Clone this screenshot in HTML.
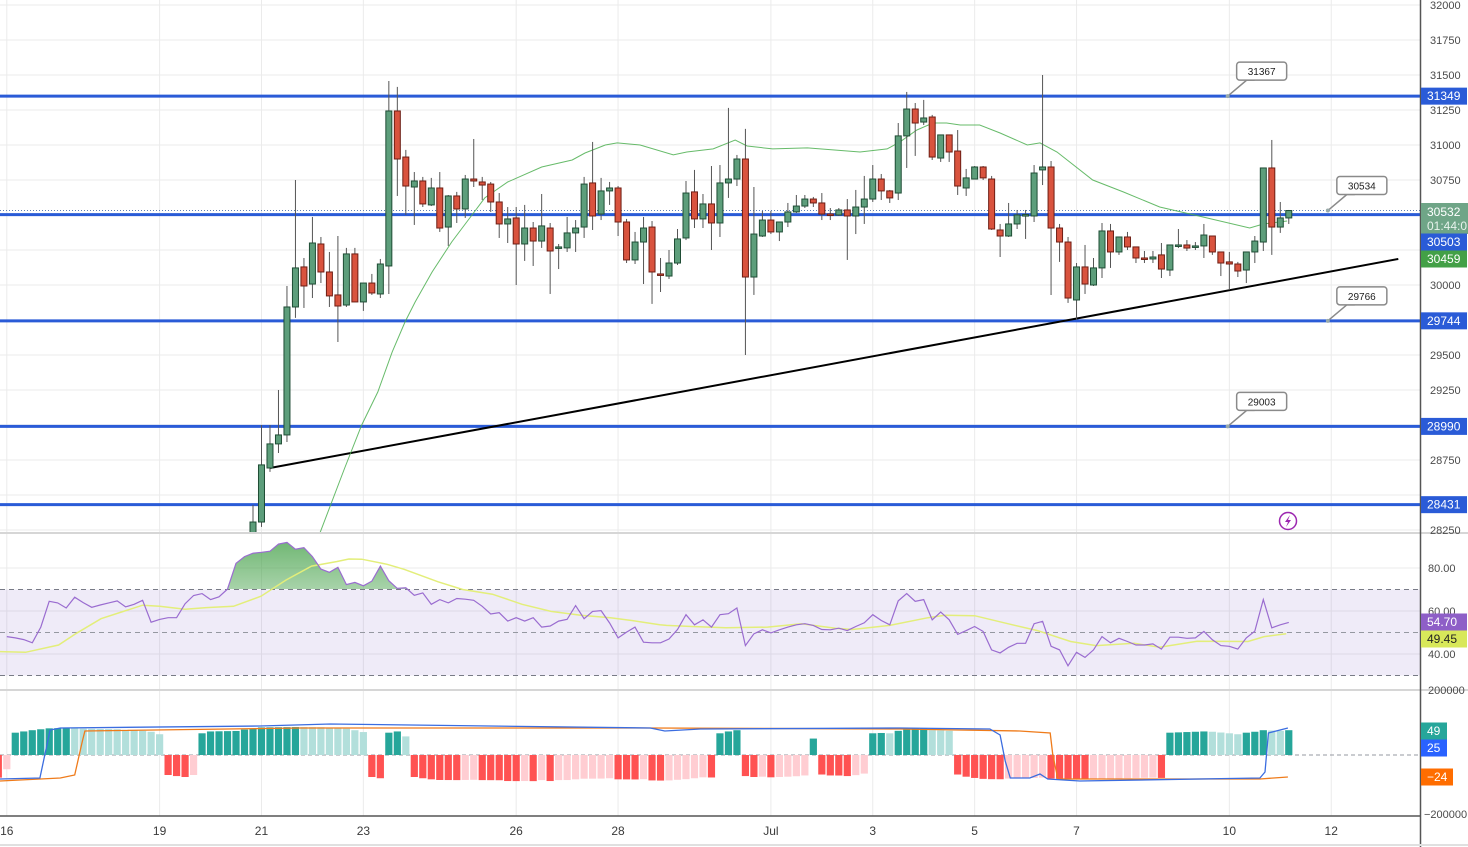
<!DOCTYPE html>
<html><head><meta charset="utf-8"><style>
html,body{margin:0;padding:0;background:#fff;}
svg{display:block;font-family:"Liberation Sans",sans-serif;}
</style></head><body>
<svg id="chart" width="1468" height="847" viewBox="0 0 1468 847" xmlns="http://www.w3.org/2000/svg">
<defs>
<linearGradient id="rsiGrad" x1="0" y1="0" x2="0" y2="1">
<stop offset="0" stop-color="#43a047" stop-opacity="0.75"/>
<stop offset="1" stop-color="#43a047" stop-opacity="0"/>
</linearGradient>
<clipPath id="mainClip"><rect x="0" y="0" width="1420" height="532"/></clipPath>
<clipPath id="rsiClip"><rect x="0" y="534" width="1420" height="155"/></clipPath>
<clipPath id="rsiUp"><rect x="0" y="534" width="1420" height="55"/></clipPath>
</defs>
<g id="grid"></g>
<g id="main" clip-path="url(#mainClip)"></g>
<g id="rsi"></g>
<g id="osc"></g>
<g id="axes"></g>
</svg>
<script>
const opens=[28215,28307,28693,28865,28929,29843,30129,30007,30293,30093,29929,29857,30222,29879,30014,29936,30136,31243,30914,30700,30743,30572,30693,30414,30636,30543,30757,30736,30721,30593,30436,30479,30293,30407,30314,30407,30265,30265,30372,30414,30729,30507,30672,30693,30450,30179,30307,30414,30079,30064,30157,30336,30665,30472,30579,30443,30729,30757,30900,30057,30350,30464,30379,30450,30522,30564,30614,30586,30507,30500,30536,30493,30557,30614,30757,30672,30657,31065,31257,31164,31200,30907,31072,30957,30693,30757,30843,30757,30393,30350,30436,30500,30493,30822,30843,30407,30307,29893,30129,30000,30122,30386,30236,30343,30272,30193,30186,30215,30107,30279,30286,30272,30279,30350,30236,30165,30150,30107,30236,30307,30836,30414,30479];
const highs=[28429,29000,29000,29250,29993,30750,30193,30486,30343,30236,30350,30265,30265,30014,30079,30186,31457,31415,30965,30807,30772,30765,30807,30643,30665,30786,31043,30772,30736,30657,30557,30557,30572,30450,30650,30443,30293,30486,30464,30772,31022,30765,30736,30707,30472,30379,30486,30457,30193,30250,30400,30743,30822,30650,30850,30857,31265,30929,31115,30700,30529,30529,30450,30586,30643,30643,30629,30657,30550,30550,30614,30679,30779,30857,30793,30679,31157,31379,31300,31322,31215,31072,31072,31107,30829,30850,30850,30779,30436,30586,30536,30536,30857,31500,30886,30436,30343,30157,30286,30193,30443,30436,30343,30379,30272,30243,30243,30300,30286,30400,30321,30307,30436,30350,30236,30236,30165,30236,30350,30836,31036,30593,30536];
const lows=[28150,28272,28665,28800,28879,29765,29836,29907,30014,29843,29593,29843,29879,29815,29929,29907,29936,30636,30500,30429,30557,30564,30379,30279,30443,30479,30700,30607,30522,30336,30300,30000,30172,30136,30265,29936,30114,30236,30236,30336,30393,30464,30572,30350,30157,30150,30007,29865,29950,30043,30143,30321,30407,30407,30250,30343,30622,30707,29500,29929,30343,30364,30314,30414,30514,30550,30557,30464,30464,30493,30179,30364,30436,30593,30607,30586,30607,30836,30922,31143,30893,30879,30879,30643,30636,30757,30750,30393,30200,30343,30400,30329,30450,30714,29929,30165,29872,29750,29936,29993,30050,30122,30215,30250,30157,30157,30157,30050,30064,30264,30243,30250,30193,30215,30064,29965,30057,30014,30157,30243,30215,30372,30436];
const closes=[28307,28715,28865,28929,29843,30122,29993,30300,30093,29922,29850,30222,29879,30014,29943,30150,31243,30900,30707,30743,30579,30693,30407,30636,30543,30757,30743,30714,30593,30436,30472,30293,30407,30314,30422,30243,30272,30372,30407,30721,30493,30672,30693,30450,30179,30307,30407,30093,30071,30157,30329,30657,30472,30579,30443,30729,30757,30900,30057,30364,30464,30379,30450,30522,30564,30614,30586,30507,30500,30536,30493,30557,30614,30757,30672,30622,31065,31257,31157,31193,30914,31072,30950,30707,30765,30843,30765,30400,30350,30436,30500,30503,30800,30843,30407,30307,29907,30129,30007,30122,30386,30236,30343,30272,30193,30186,30200,30114,30286,30286,30264,30279,30357,30236,30157,30150,30100,30236,30314,30836,30414,30479,30532];
const maIdx=[7.8,10.8,12.8,14.7,16.4,17.9,19.1,21.1,23.4,25.8,27.3,30.0,34.0,37.6,39.1,41.5,42.9,45.6,49.5,51.1,54.2,56.8,58.2,61.2,65.3,71.5,74.7,76.2,78.2,80.1,81.7,83.3,85.6,88.0,91.2,92.7,94.7,98.9,102.5,106.8,111.9,117.4,119,121.8];
const maVal=[28215,28693,29000,29236,29522,29736,29879,30093,30307,30500,30622,30736,30843,30893,30943,31000,31015,31000,30929,30950,30972,31036,30993,30972,30979,30950,30972,31022,31107,31157,31157,31143,31143,31086,31000,31015,30950,30750,30665,30557,30486,30407,30436,30457];
const levels=[31349,30503,29744,28990,28431];
const levelLabels=["31349","30503","29744","28990","28431"];
const calloutPrices=[31367,30534,29766,29003];
const calloutIdx=[114.8,126.6,126.6,114.8];
const calloutLine=[31349,30532,29744,28990];
const trendIdx=[2.0,134.9];
const trendVal=[28693,30186];
const priceTicks=[32000,31750,31500,31250,31000,30750,30500,30250,30000,29750,29500,29250,29000,28750,28500,28250];
const dayIdx=[-29,-11,1,13,31,43,61,73,85,97,115,127];
const dayLabels=["16","19","21","23","26","28","Jul","3","5","7","10","12"];
const rsiStart=-29;
const rsiVals=[48.1,47.5,46.7,45.2,52.5,64.5,63.75,61.4,66.4,63.9,61.7,62.8,63.75,64.7,61.9,63.1,65,54.8,56.1,56.9,56.9,63.4,67.2,68.1,65.3,66.6,70.2,82.2,85.3,86.9,87.3,87.8,91.1,91.9,88.75,89.5,85.3,79.5,78,80.3,72.3,73.3,71.7,73.9,80.9,74.1,70.5,70.8,67.3,68.4,63.1,65.3,63.75,65.8,65.5,65,62.2,58.6,59.2,55.3,56.9,55.3,56.9,52.5,53,55.3,56.1,62.5,56.4,59.8,60.2,54.4,47.5,50.2,52.5,45.5,45.2,45.2,47,51.4,58.3,53.6,55.9,52.5,58.3,58.75,61.4,43.9,49.4,51.25,49.8,51.25,52.5,53.6,54.1,53.3,51.4,51.25,52,50.9,52.8,54.5,58.3,55.6,53.6,64.7,68.1,64.5,65.3,55.9,59.5,55.9,49.1,50.9,52.8,50.5,41.9,40.5,43.1,45,45,54.1,55.2,43.6,41.9,34.5,40.8,38.4,41.9,48.1,45.2,47.3,45.8,44.2,44.2,44.7,42.3,47.8,47.8,47.3,47.5,50.5,46.6,43.9,43.6,42.3,47.5,50.6,65.3,52.2,53.6,54.7];
const rsiMaIdx=[-29.8,-26.8,-22.9,-20.9,-17.9,-14.9,-13,-11,-8,-5.5,-2.3,0.94,3.9,6.9,9.9,11.3,12.8,15.8,17.8,21.8,24.7,28.2,31.7,35.1,38.6,42.1,44.6,47.9,48.7,51.7,55.7,60.6,64.6,68.6,70.6,75,79.5,81.5,85,88.9,92.4,96.3,99.3,103.8,106.8,111.2,117.2,119.1,121.7];
const rsiMaVal=[41.1,40.8,44.2,49.4,56.4,60.3,62.7,62.2,60.8,61.6,62.2,66.9,74.4,80.9,83,84.2,84.1,81.7,79.4,73.6,70,67.8,63.1,59.8,58,56.9,55.6,53.6,53.3,52.8,52.2,52.5,54.1,52,51.4,53.3,56.9,58,57.8,54.1,50.9,45.8,43.9,45,43.1,45.9,45.8,48.1,49.45];
const histStart=-30;
const histVals=[-73,-46,72,76,80,83,86,86.5,87,86,85,84.5,84,83.5,83,81,79,78,75,67,-64.5,-68,-71,-64.5,70,76,76.5,77,77.5,82,85,89,89.3,89.6,89.9,90.2,90,89.8,89.6,88,86,85,80,74,-71,-75,72,76,60,-71,-75,-78.5,-80.6,-80.8,-81,-80.5,-80,-81,-81.2,-81.4,-84,-84.2,-84,-84.3,-81,-84,-81,-80.8,-78.5,-76.5,-76.3,-76.1,-75,-78.5,-78.7,-78.9,-78,-82,-82.5,-82,-80,-78,-75,-72,-72.5,70,76,80,-68,-71,-70,-72,-71,-70,-68.5,-66,53,-63,-66,-66.2,-68,-65,-60,70,71,70,78,82,85,86,80,79,78,-63,-70,-74,-77,-78,-78.2,-76,-76,-75.5,-74,-73,-76,-77,-78,-78.5,-79,-78,-77,-76.5,-76,-75,-74,-73.5,-73,-74,72,73,74,75,76,75,72.5,70,67,72,75,80,79,78,80];
const blueIdx=[-29.8,-25.1,-23.9,-22.7,0.8,9.1,46.8,48.5,52.7,76.2,86.8,88,88.6,89.2,91.5,92.7,93.6,97.4,118.6,119.2,119.6,121.9];
const blueVal=[-77.4,-74.2,80.6,87.1,93.5,100,87.1,77.4,83.9,87.1,83.9,64.5,-19.4,-74.2,-74.2,-61.3,-77.4,-83.9,-74.2,-54.8,71,87.1];
const orangeIdx=[-29.8,-22.7,-21,-20.1,-19.8,5.5,46.8,76.2,90.3,93.9,94.2,94.8,99.8,118.6,121.9];
const orangeVal=[-83.9,-74.2,-64.5,45.2,77.4,87.1,87.1,83.9,77.4,71,0,-77.4,-77.4,-77.4,-71];

const NS="http://www.w3.org/2000/svg";
const xK=k=>253+8.49*k;
const yP=p=>40+(31750-p)*0.14;
const yR=v=>568+(80-v)*2.15;
const yH=v=>755-v/3.226;
function mk(tag,attrs,parent){const e=document.createElementNS(NS,tag);for(const k in attrs)e.setAttribute(k,attrs[k]);parent.appendChild(e);return e;}
const G=document.getElementById('grid'),M=document.getElementById('main'),R=document.getElementById('rsi'),O=document.getElementById('osc'),A=document.getElementById('axes');

// grid
priceTicks.forEach(p=>{const l=mk('line',{x1:0,x2:1420,y1:yP(p),y2:yP(p),stroke:'#ebebeb','stroke-width':1},G);

});
dayIdx.forEach(k=>{const l=mk('line',{x1:xK(k),x2:xK(k),y1:0,y2:816,stroke:'#ebebeb','stroke-width':1},G);

});
[80,60,40].forEach(v=>{const l=mk('line',{x1:0,x2:1420,y1:yR(v),y2:yR(v),stroke:'#ebebeb'},G);

});

// levels
levels.forEach((p,i)=>{const l=mk('line',{x1:0,x2:1420,y1:yP(p),y2:yP(p),stroke:'#2a5bd7','stroke-width':3},M);

});
// current price dotted
{const l=mk('line',{x1:0,x2:1420,y1:yP(closes[closes.length-1]),y2:yP(closes[closes.length-1]),stroke:'#5d7fb5','stroke-width':1,'stroke-dasharray':'1 2'},M);

}
// trendline
{const l=mk('line',{x1:xK(trendIdx[0]),y1:yP(trendVal[0]),x2:xK(trendIdx[1]),y2:yP(trendVal[1]),stroke:'#000','stroke-width':2},M);

}
// MA
{let d='';maIdx.forEach((k,i)=>{d+=(i?'L':'M')+xK(k).toFixed(1)+','+yP(maVal[i]).toFixed(1);});
const l=mk('path',{d:d,fill:'none',stroke:'#4caf50','stroke-width':1,'stroke-opacity':0.85},M);

}
// candles
opens.forEach((o,i)=>{const c=closes[i],up=c>=o,x=xK(i);
const g=mk('g',{},M);


mk('line',{x1:x,x2:x,y1:yP(highs[i]),y2:yP(lows[i]),stroke:'#555','stroke-width':1},g);
const t=Math.min(yP(o),yP(c)),h=Math.max(1.5,Math.abs(yP(o)-yP(c)));
mk('rect',{x:x-3,y:t,width:6,height:h,fill:up?'#5d9e7b':'#d9533e',stroke:up?'#1f4d35':'#6e1e14','stroke-width':1},g);});
// callouts
calloutPrices.forEach((p,i)=>{const ax=xK(calloutIdx[i]),ay=yP(calloutLine[i]);
const g=mk('g',{},M);


const bx=ax+9,by=ay-34;
mk('path',{d:`M${ax},${ay} L${bx+10},${by+18} L${bx+18},${by+18}`,fill:'#fff',stroke:'#8a8a8a','stroke-width':1.5},g);
mk('rect',{x:bx,y:by,width:50,height:18,rx:3,fill:'#fff',stroke:'#8a8a8a','stroke-width':1.5},g);
mk('circle',{cx:ax,cy:ay,r:2,fill:'#9aa'},g);
const t=mk('text',{x:bx+25,y:by+13,'text-anchor':'middle','font-size':10,fill:'#222'},g);t.textContent=p;});
// lightning icon
{const g=mk('g',{},A);


mk('circle',{cx:1288,cy:521,r:8.5,fill:'#fff',stroke:'#9c27b0','stroke-width':1.5},g);
mk('path',{d:'M1290,515 L1285,522 L1288,522 L1286,527 L1291,520 L1288,520 Z',fill:'#9c27b0'},g);}

// RSI panel
{const b=mk('rect',{x:0,y:yR(70),width:1420,height:yR(30)-yR(70),fill:'#7e57c2','fill-opacity':0.12},R);


[70,50,30].forEach(v=>{const l=mk('line',{x1:0,x2:1420,y1:yR(v),y2:yR(v),stroke:v==50?'#9598a1':'#787b86','stroke-width':1,'stroke-dasharray':'5 4'},R);

});
let d='';rsiVals.forEach((v,i)=>{d+=(i?'L':'M')+xK(rsiStart+i).toFixed(1)+','+yR(v).toFixed(1);});
const fd=d+`L${xK(rsiStart+rsiVals.length-1)},${yR(70)}L${xK(rsiStart)},${yR(70)}Z`;
const f=mk('path',{d:fd,fill:'url(#rsiGrad)','clip-path':'url(#rsiUp)'},R);


let dm='';rsiMaIdx.forEach((k,i)=>{dm+=(i?'L':'M')+xK(k).toFixed(1)+','+yR(rsiMaVal[i]).toFixed(1);});
const m=mk('path',{d:dm,fill:'none',stroke:'#e3ee7a','stroke-width':1.5},R);


const l=mk('path',{d:d,fill:'none',stroke:'#9a6cd0','stroke-width':1.2},R);

}

// oscillator
{const z=mk('line',{x1:0,x2:1420,y1:yH(0),y2:yH(0),stroke:'#9598a1','stroke-dasharray':'4 3'},O);


histVals.forEach((v,i)=>{const prev=i?histVals[i-1]:v+1;
let col=v>=0?(v>prev?'#26a69a':'#b2dfdb'):(v<prev?'#ff5252':'#ffcdd2');
const x=xK(histStart+i),y0=yH(0),y1=yH(v);
const r=mk('rect',{x:x-3.6,y:Math.min(y0,y1),width:7.2,height:Math.abs(y1-y0),fill:col},O);

});
let db='';blueIdx.forEach((k,i)=>{db+=(i?'L':'M')+Math.max(0,xK(k)).toFixed(1)+','+yH(blueVal[i]).toFixed(1);});
let dor='';orangeIdx.forEach((k,i)=>{dor+=(i?'L':'M')+Math.max(0,xK(k)).toFixed(1)+','+yH(orangeVal[i]).toFixed(1);});
const lo=mk('path',{d:dor,fill:'none',stroke:'#ef7b1a','stroke-width':1.3},O);


const lb=mk('path',{d:db,fill:'none',stroke:'#3b6de0','stroke-width':1.3},O);

}

// panel separators & borders
[[533,'#d6d6d6',2],[690,'#d6d6d6',2]].forEach(s=>{const l=mk('line',{x1:0,x2:1468,y1:s[0],y2:s[0],stroke:s[1],'stroke-width':s[2]},A);

});
{const l=mk('line',{x1:0,x2:1420,y1:816,y2:816,stroke:'#555','stroke-width':1.5},A);


const r=mk('line',{x1:1420.5,x2:1420.5,y1:0,y2:847,stroke:'#555','stroke-width':1.5},A);


const bb=mk('line',{x1:0,x2:1468,y1:845,y2:845,stroke:'#e0e0e0','stroke-width':2},A);

}

// price axis labels
const busy=[96,212,226,242,259,322,428,506];
priceTicks.forEach(p=>{const y=yP(p);if(busy.some(b=>Math.abs(b-y)<11))return;
const t=mk('text',{x:1430,y:y+4,'font-size':11,fill:'#4a4a4a'},A);t.textContent=p;

});
function tag(y,txt,bg,fg,name,w){const g=mk('g',{},A);


mk('rect',{x:1421,y:y-8.5,width:w||46,height:17,fill:bg},g);
const t=mk('text',{x:1427,y:y+4,'font-size':12,fill:fg},g);t.textContent=txt;return g;}
levels.forEach((p,i)=>{if(i==1)return;tag(yP(p),levelLabels[i],'#2a5bd7','#fff','level-price-tag');});
{const g=mk('g',{},A);


mk('rect',{x:1421,y:203,width:47,height:31,fill:'#6fa587'},g);
const t1=mk('text',{x:1427,y:216,'font-size':12,fill:'#fff'},g);t1.textContent=closes[closes.length-1];
const t2=mk('text',{x:1427,y:230,'font-size':12,fill:'#e8f3ec'},g);t2.textContent='01:44:0';}
tag(242,levelLabels[1],'#2a5bd7','#fff','level-price-tag');
tag(259,'30459','#43a047','#fff','ma-price-tag');
// RSI axis
[80,60,40].forEach(v=>{const t=mk('text',{x:1428,y:yR(v)+4,'font-size':11,fill:'#4a4a4a'},A);t.textContent=v.toFixed(2);

});
tag(622,rsiVals[rsiVals.length-1].toFixed(2),'#8e5fc7','#fff','rsi-value-tag');
tag(639,rsiMaVal[rsiMaVal.length-1].toFixed(2),'#d8e85a','#222','rsi-ma-value-tag');
// oscillator axis
{const t=mk('text',{x:1428,y:694,'font-size':11,fill:'#4a4a4a'},A);t.textContent='200000';


const t2=mk('text',{x:1424,y:818,'font-size':11,fill:'#4a4a4a'},A);t2.textContent='−200000';

}
tag(731,'49','#26a69a','#fff','osc-hist-tag',26);
tag(748,'25','#2962ff','#fff','osc-blue-tag',26);
tag(777,'−24','#ff6d00','#fff','osc-orange-tag',32);
// date labels
dayIdx.forEach((k,i)=>{const t=mk('text',{x:xK(k),y:835,'text-anchor':'middle','font-size':12,fill:'#3a3a3a'},A);t.textContent=dayLabels[i];

});
</script>
</body></html>
